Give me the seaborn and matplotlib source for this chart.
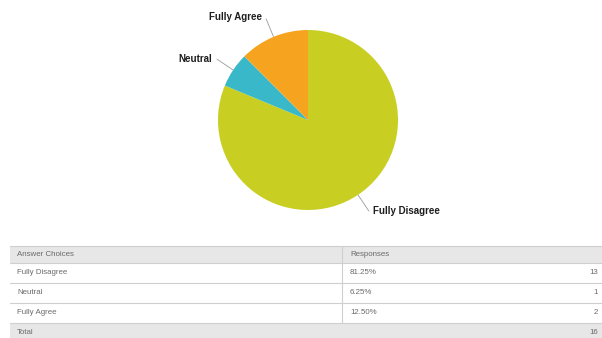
import matplotlib
matplotlib.use("Agg")
import matplotlib.pyplot as plt
from matplotlib.patches import Rectangle
import numpy as np
import seaborn as sns

sns.set_theme(style="white")
plt.rcParams["font.family"] = ["Liberation Sans", "DejaVu Sans"]

# Survey answers
choices = ["Fully Disagree", "Neutral", "Fully Agree"]
counts = [13, 1, 2]
slice_colors = sns.color_palette(["#C8CF22", "#38B8C8", "#F6A31F"])

total = sum(counts)
percents = [100.0 * c / total for c in counts]

W, H = 602, 338
fig = plt.figure(figsize=(W / 100, H / 100), dpi=100)
fig.patch.set_facecolor("white")

# ---- pie chart ----
cx, cy, r = 308, 120, 90
ax = fig.add_axes([(cx - r) / W, (H - cy - r) / H, 2 * r / W, 2 * r / H])
wedges, _ = ax.pie(counts, colors=slice_colors, startangle=90, counterclock=False,
                   radius=1.0, wedgeprops=dict(linewidth=0))
ax.set_xlim(-1, 1)
ax.set_ylim(-1, 1)
ax.set_aspect("equal")
ax.axis("off")

# radial leader lines with the label at the outer end
for w, name in zip(wedges, choices):
    mid = np.deg2rad((w.theta1 + w.theta2) / 2)
    px, py = np.cos(mid), np.sin(mid)
    ax.plot([1.0 * px, 1.22 * px], [1.0 * py, 1.22 * py], color="#9a9a9a", lw=0.6,
            clip_on=False, solid_capstyle="butt")
    right_side = px > 0
    ax.annotate(name, xy=(1.22 * px, 1.22 * py),
                xytext=(3 if right_side else -3, 1 if py > 0.9 else 0),
                textcoords="offset points",
                ha="left" if right_side else "right", va="center",
                fontsize=7.0, fontweight="bold", color="#1e1e1e",
                annotation_clip=False)

# ---- response table ----
tab = fig.add_axes([0, 0, 1, 1])
tab.set_xlim(0, W)
tab.set_ylim(H, 0)
tab.axis("off")

x0, x1, xdiv = 10, W, 342
header_top, header_bot = 246, 263
row_h = 20
grey = "#E7E7E7"
line_c = "#CFCFCF"
txt_c = "#6a6a6a"
fs = 5.7

tab.add_patch(Rectangle((x0, header_top), x1 - x0, header_bot - header_top,
                        facecolor=grey, edgecolor="none"))
tab.plot([x0, x1], [header_top, header_top], color=line_c, lw=0.8)
tab.plot([x0, x1], [header_bot, header_bot], color=line_c, lw=0.8)
tab.text(17, (header_top + header_bot) / 2, "Answer Choices", fontsize=fs, color=txt_c,
         va="center", ha="left")
tab.text(350, (header_top + header_bot) / 2, "Responses", fontsize=fs, color=txt_c,
         va="center", ha="left")

y = header_bot
for name, pct, n in zip(choices, percents, counts):
    yc = y + row_h / 2
    tab.text(17, yc, name, fontsize=fs, color=txt_c, va="center", ha="left")
    tab.text(350, yc, f"{pct:.2f}%", fontsize=fs, color=txt_c, va="center", ha="left")
    tab.text(598, yc, f"{n}", fontsize=fs, color=txt_c, va="center", ha="right")
    y += row_h
    tab.plot([x0, x1], [y, y], color=line_c, lw=0.8)

tab.plot([xdiv, xdiv], [header_top, y], color=line_c, lw=0.8)

tab.add_patch(Rectangle((x0, y), x1 - x0, H - y, facecolor=grey, edgecolor="none"))
tab.text(17, y + 9, "Total", fontsize=fs, color=txt_c, va="center", ha="left")
tab.text(598, y + 9, f"{total}", fontsize=fs, color=txt_c, va="center", ha="right")

fig.savefig("out.png", dpi=100, facecolor="white")
